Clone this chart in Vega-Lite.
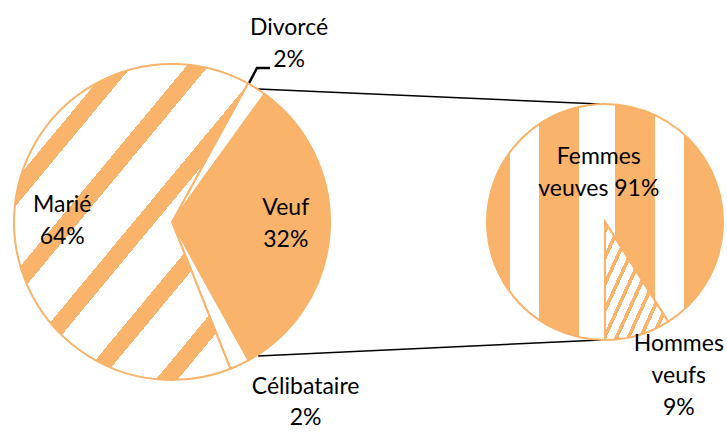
{
  "$schema": "https://vega.github.io/schema/vega-lite/v6.json",
  "width": 727,
  "height": 432,
  "autosize": {"type": "none"},
  "padding": 0,
  "background": "white",
  "config": {"view": {"stroke": null}},
  "datasets": {
    "situation": [
      {"cat": "Divorcé", "value": 2, "rank": 1, "label": "Divorcé\n2%"},
      {"cat": "Veuf", "value": 32, "rank": 2, "label": "Veuf\n32%"},
      {"cat": "Célibataire", "value": 2, "rank": 3, "label": "Célibataire\n2%"},
      {"cat": "Marié", "value": 64, "rank": 4, "label": "Marié\n64%"}
    ],
    "veufs": [
      {"cat": "Femmes veuves", "value": 91, "rank": 1, "label": "Femmes\nveuves 91%"},
      {"cat": "Hommes veufs", "value": 9, "rank": 2, "label": "Hommes\nveufs\n9%"}
    ]
  },
  "resolve": {"scale": {"theta": "independent"}},
  "layer": [
    {
      "data": {"values": [{}]},
      "mark": {"type": "rule", "stroke": "#000000", "strokeWidth": 1.5},
      "encoding": {
        "x": {"datum": 35.49, "type": "quantitative", "scale": {"domain": [0, 100], "nice": false, "zero": false}, "axis": null},
        "y": {"datum": 20.6, "type": "quantitative", "scale": {"domain": [0, 100], "nice": false, "zero": false, "reverse": true}, "axis": null},
        "x2": {"datum": 82.53},
        "y2": {"datum": 24.07}
      }
    },
    {
      "data": {"values": [{}]},
      "mark": {"type": "rule", "stroke": "#000000", "strokeWidth": 1.5},
      "encoding": {
        "x": {"datum": 35.49, "type": "quantitative"},
        "y": {"datum": 82.41, "type": "quantitative"},
        "x2": {"datum": 82.67},
        "y2": {"datum": 78.7}
      }
    },
    {
      "data": {"values": [{}]},
      "mark": {"type": "rule", "stroke": "#000000", "strokeWidth": 2.5},
      "encoding": {
        "x": {"datum": 34.11, "type": "quantitative"},
        "y": {"datum": 19.68, "type": "quantitative"},
        "x2": {"datum": 35.35},
        "y2": {"datum": 15.74}
      }
    },
    {
      "data": {"values": [{}]},
      "mark": {"type": "rule", "stroke": "#000000", "strokeWidth": 2.5},
      "encoding": {
        "x": {"datum": 35.2, "type": "quantitative"},
        "y": {"datum": 15.74, "type": "quantitative"},
        "x2": {"datum": 37.14},
        "y2": {"datum": 15.74}
      }
    },
    {
      "data": {"name": "situation"},
      "mark": {"type": "arc", "radius": 158, "stroke": "#F9B36A", "strokeWidth": 2},
      "encoding": {
        "x": {"datum": 23.659, "type": "quantitative"},
        "y": {"datum": 51.389, "type": "quantitative"},
        "theta": {"field": "value", "type": "quantitative", "stack": true, "scale": {"range": [0.5009, 6.7841]}},
        "order": {"field": "rank", "type": "quantitative"},
        "fill": {
          "condition": [
            {"test": "datum.cat === 'Marié'", "value": {
              "gradient": "linear", "x1": 0, "y1": 0, "x2": 1, "y2": 1.1213,
              "stops": [
                {"offset": 0, "color": "#FFFFFF"},
                {"offset": 0.04, "color": "#FFFFFF"}, {"offset": 0.04, "color": "#F9B36A"},
                {"offset": 0.0816, "color": "#F9B36A"}, {"offset": 0.0816, "color": "#FFFFFF"},
                {"offset": 0.1849, "color": "#FFFFFF"}, {"offset": 0.1849, "color": "#F9B36A"},
                {"offset": 0.2265, "color": "#F9B36A"}, {"offset": 0.2265, "color": "#FFFFFF"},
                {"offset": 0.3298, "color": "#FFFFFF"}, {"offset": 0.3298, "color": "#F9B36A"},
                {"offset": 0.3714, "color": "#F9B36A"}, {"offset": 0.3714, "color": "#FFFFFF"},
                {"offset": 0.4747, "color": "#FFFFFF"}, {"offset": 0.4747, "color": "#F9B36A"},
                {"offset": 0.5163, "color": "#F9B36A"}, {"offset": 0.5163, "color": "#FFFFFF"},
                {"offset": 0.6196, "color": "#FFFFFF"}, {"offset": 0.6196, "color": "#F9B36A"},
                {"offset": 0.6612, "color": "#F9B36A"}, {"offset": 0.6612, "color": "#FFFFFF"},
                {"offset": 0.7645, "color": "#FFFFFF"}, {"offset": 0.7645, "color": "#F9B36A"},
                {"offset": 0.8061, "color": "#F9B36A"}, {"offset": 0.8061, "color": "#FFFFFF"},
                {"offset": 0.9094, "color": "#FFFFFF"}, {"offset": 0.9094, "color": "#F9B36A"},
                {"offset": 0.951, "color": "#F9B36A"}, {"offset": 0.951, "color": "#FFFFFF"},
                {"offset": 1, "color": "#FFFFFF"}
              ]
            }},
            {"test": "datum.cat === 'Veuf'", "value": "#F9B36A"}
          ],
          "value": "#FFFFFF"
        }
      }
    },
    {
      "data": {"name": "veufs"},
      "mark": {"type": "arc", "radius": 118, "stroke": "#F9B36A", "strokeWidth": 2},
      "encoding": {
        "x": {"datum": 83.219, "type": "quantitative"},
        "y": {"datum": 51.389, "type": "quantitative"},
        "theta": {"field": "value", "type": "quantitative", "stack": true, "scale": {"range": [3.14159, 9.42478]}},
        "order": {"field": "rank", "type": "quantitative"},
        "fill": {
          "condition": [
            {"test": "datum.cat === 'Femmes veuves'", "value": {
              "gradient": "linear", "x1": 0, "y1": 0, "x2": 1, "y2": 0,
              "stops": [
                {"offset": 0, "color": "#F9B36A"}, {"offset": 0.0975, "color": "#F9B36A"},
                {"offset": 0.0975, "color": "#FFFFFF"}, {"offset": 0.2216, "color": "#FFFFFF"},
                {"offset": 0.2216, "color": "#F9B36A"}, {"offset": 0.3911, "color": "#F9B36A"},
                {"offset": 0.3911, "color": "#FFFFFF"}, {"offset": 0.5424, "color": "#FFFFFF"},
                {"offset": 0.5424, "color": "#F9B36A"}, {"offset": 0.7119, "color": "#F9B36A"},
                {"offset": 0.7119, "color": "#FFFFFF"}, {"offset": 0.8347, "color": "#FFFFFF"},
                {"offset": 0.8347, "color": "#F9B36A"}, {"offset": 1, "color": "#F9B36A"}
              ]
            }}
          ],
          "value": {
            "gradient": "linear", "x1": 0, "y1": 0, "x2": 1, "y2": 0.849,
            "stops": [
              {"offset": 0, "color": "#FFFFFF"},
              {"offset": 0.02, "color": "#FFFFFF"}, {"offset": 0.02, "color": "#F9B36A"}, {"offset": 0.057, "color": "#F9B36A"}, {"offset": 0.057, "color": "#FFFFFF"},
              {"offset": 0.13, "color": "#FFFFFF"}, {"offset": 0.13, "color": "#F9B36A"}, {"offset": 0.167, "color": "#F9B36A"}, {"offset": 0.167, "color": "#FFFFFF"},
              {"offset": 0.24, "color": "#FFFFFF"}, {"offset": 0.24, "color": "#F9B36A"}, {"offset": 0.277, "color": "#F9B36A"}, {"offset": 0.277, "color": "#FFFFFF"},
              {"offset": 0.35, "color": "#FFFFFF"}, {"offset": 0.35, "color": "#F9B36A"}, {"offset": 0.387, "color": "#F9B36A"}, {"offset": 0.387, "color": "#FFFFFF"},
              {"offset": 0.46, "color": "#FFFFFF"}, {"offset": 0.46, "color": "#F9B36A"}, {"offset": 0.497, "color": "#F9B36A"}, {"offset": 0.497, "color": "#FFFFFF"},
              {"offset": 0.57, "color": "#FFFFFF"}, {"offset": 0.57, "color": "#F9B36A"}, {"offset": 0.607, "color": "#F9B36A"}, {"offset": 0.607, "color": "#FFFFFF"},
              {"offset": 0.68, "color": "#FFFFFF"}, {"offset": 0.68, "color": "#F9B36A"}, {"offset": 0.717, "color": "#F9B36A"}, {"offset": 0.717, "color": "#FFFFFF"},
              {"offset": 0.79, "color": "#FFFFFF"}, {"offset": 0.79, "color": "#F9B36A"}, {"offset": 0.827, "color": "#F9B36A"}, {"offset": 0.827, "color": "#FFFFFF"},
              {"offset": 0.9, "color": "#FFFFFF"}, {"offset": 0.9, "color": "#F9B36A"}, {"offset": 0.937, "color": "#F9B36A"}, {"offset": 0.937, "color": "#FFFFFF"},
              {"offset": 1, "color": "#FFFFFF"}
            ]
          }
        }
      }
    },
    {
      "data": {"name": "situation"},
      "mark": {"type": "text", "radius": 219, "dy": -9, "font": "Lato", "fontSize": 23, "lineBreak": "\n", "lineHeight": 32, "fill": "#000000"},
      "encoding": {
        "x": {"datum": 23.659, "type": "quantitative"},
        "y": {"datum": 51.389, "type": "quantitative"},
        "theta": {"field": "value", "type": "quantitative", "stack": true, "scale": {"range": [0.5009, 6.7841]}},
        "order": {"field": "rank", "type": "quantitative"},
        "text": {"condition": {"test": "datum.cat === 'Divorcé'", "field": "label"}, "value": ""}
      }
    },
    {
      "data": {"name": "situation"},
      "mark": {"type": "text", "radius": 114, "dy": -21, "font": "Lato", "fontSize": 23, "lineBreak": "\n", "lineHeight": 32, "fill": "#000000"},
      "encoding": {
        "x": {"datum": 23.659, "type": "quantitative"},
        "y": {"datum": 51.389, "type": "quantitative"},
        "theta": {"field": "value", "type": "quantitative", "stack": true, "scale": {"range": [0.5009, 6.7841]}},
        "order": {"field": "rank", "type": "quantitative"},
        "text": {"condition": {"test": "datum.cat === 'Veuf'", "field": "label"}, "value": ""}
      }
    },
    {
      "data": {"name": "situation"},
      "mark": {"type": "text", "radius": 205, "dx": 46, "dy": -20, "font": "Lato", "fontSize": 23, "lineBreak": "\n", "lineHeight": 31, "fill": "#000000"},
      "encoding": {
        "x": {"datum": 23.659, "type": "quantitative"},
        "y": {"datum": 51.389, "type": "quantitative"},
        "theta": {"field": "value", "type": "quantitative", "stack": true, "scale": {"range": [0.5009, 6.7841]}},
        "order": {"field": "rank", "type": "quantitative"},
        "text": {"condition": {"test": "datum.cat === 'Célibataire'", "field": "label"}, "value": ""}
      }
    },
    {
      "data": {"name": "situation"},
      "mark": {"type": "text", "radius": 110, "dy": -10, "font": "Lato", "fontSize": 23, "lineBreak": "\n", "lineHeight": 32, "fill": "#000000"},
      "encoding": {
        "x": {"datum": 23.659, "type": "quantitative"},
        "y": {"datum": 51.389, "type": "quantitative"},
        "theta": {"field": "value", "type": "quantitative", "stack": true, "scale": {"range": [0.5009, 6.7841]}},
        "order": {"field": "rank", "type": "quantitative"},
        "text": {"condition": {"test": "datum.cat === 'Marié'", "field": "label"}, "value": ""}
      }
    },
    {
      "data": {"name": "veufs"},
      "mark": {"type": "text", "radius": 51, "dx": 8, "dy": -16, "font": "Lato", "fontSize": 23, "lineBreak": "\n", "lineHeight": 32, "fill": "#000000"},
      "encoding": {
        "x": {"datum": 83.219, "type": "quantitative"},
        "y": {"datum": 51.389, "type": "quantitative"},
        "theta": {"field": "value", "type": "quantitative", "stack": true, "scale": {"range": [3.14159, 9.42478]}},
        "order": {"field": "rank", "type": "quantitative"},
        "text": {"condition": {"test": "datum.cat === 'Femmes veuves'", "field": "label"}, "value": ""}
      }
    },
    {
      "data": {"name": "veufs"},
      "mark": {"type": "text", "radius": 157, "dx": 30, "dy": -29, "font": "Lato", "fontSize": 23, "lineBreak": "\n", "lineHeight": 32, "fill": "#000000"},
      "encoding": {
        "x": {"datum": 83.219, "type": "quantitative"},
        "y": {"datum": 51.389, "type": "quantitative"},
        "theta": {"field": "value", "type": "quantitative", "stack": true, "scale": {"range": [3.14159, 9.42478]}},
        "order": {"field": "rank", "type": "quantitative"},
        "text": {"condition": {"test": "datum.cat === 'Hommes veufs'", "field": "label"}, "value": ""}
      }
    }
  ]
}
